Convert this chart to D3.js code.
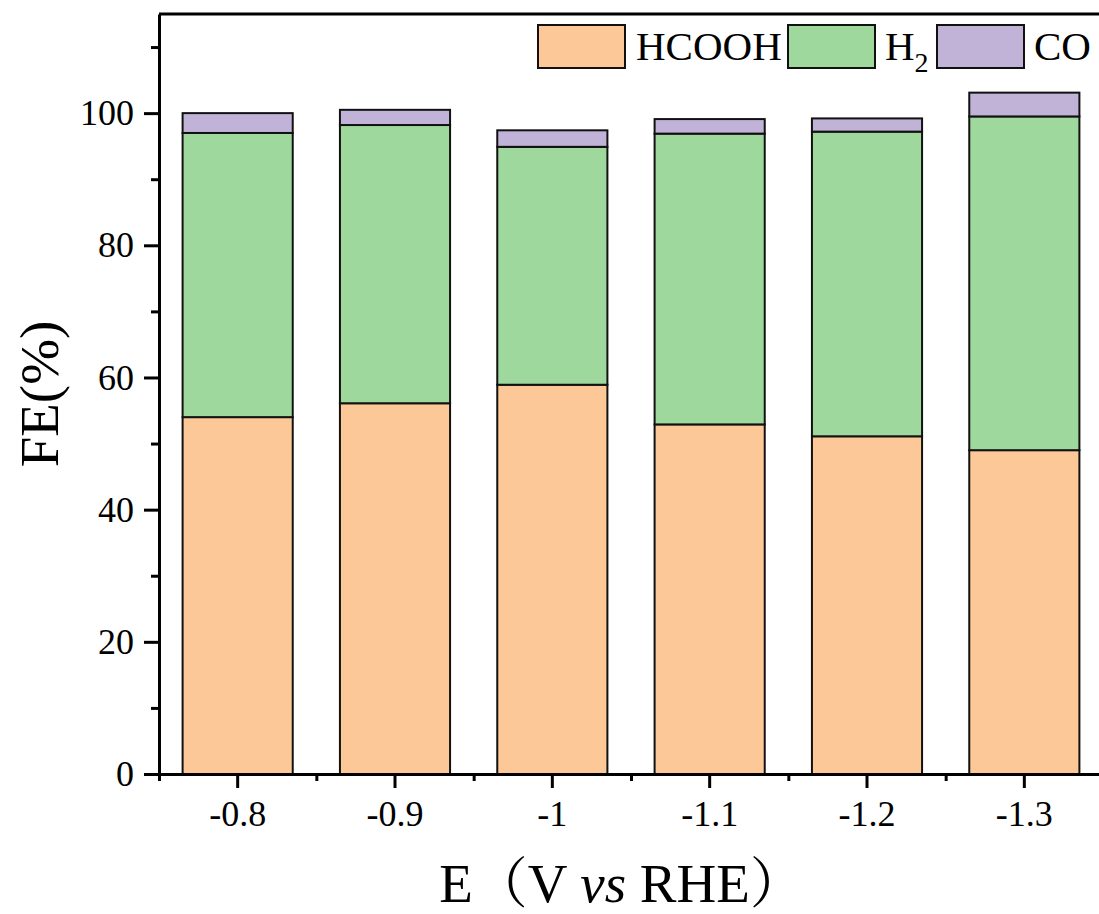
<!DOCTYPE html>
<html>
<head>
<meta charset="utf-8">
<script src="https://cdn.jsdelivr.net/npm/d3@7"></script>
<style>
    body { margin: 0; background: #fff; }
    text { font-family: "Liberation Serif", "Times New Roman", "Noto Serif CJK SC", "Noto Sans CJK SC", serif; fill: #000; }
</style>
</head>
<body>
<div id="chart"></div>
<script>
// data
const potentials = ["-0.8", "-0.9", "-1", "-1.1", "-1.2", "-1.3"]
const feHCOOH = [54.0, 56.1, 58.9, 52.9, 51.1, 49.0]
const feH2 = [43.0, 42.1, 36.0, 44.0, 46.1, 50.5]
const feCO = [3.0, 2.3, 2.5, 2.2, 2.0, 3.6]

const products = ["HCOOH", "H2", "CO"]
const colors = ["#fdc897", "#9ed89d", "#c1b2d8"]
const yTicks = [0, 20, 40, 60, 80, 100]
const yMinorTicks = [10, 30, 50, 70, 90, 110]

// Set dimensions
const dims = {
    width: 1099,
    height: 914,
    margin: { top: 14, right: -4, bottom: 140, left: 159 },
}
dims.boundedWidth = dims.width - dims.margin.left - dims.margin.right
dims.boundedHeight = dims.height - dims.margin.top - dims.margin.bottom

const rows = potentials.map((p, i) => ({
    E: p, HCOOH: feHCOOH[i], H2: feH2[i], CO: feCO[i]
}))
const series = d3.stack().keys(products)(rows)

// scales
const xScale = d3.scaleBand()
    .domain(potentials)
    .range([0, dims.boundedWidth])
    .paddingInner(0.3)
    .paddingOuter(0.15)

const xMinor = d3.scaleLinear()
    .domain([-0.5, potentials.length - 0.5])
    .range([0, dims.boundedWidth])

const yScale = d3.scaleLinear()
    .domain([0, 115])
    .range([dims.boundedHeight, 0])

const colorScale = d3.scaleOrdinal().domain(products).range(colors)

const svg = d3.select("#chart").append("svg")
    .attr("width", dims.width)
    .attr("height", dims.height)

const bounds = svg.append("g")
    .attr("transform", `translate(${dims.margin.left},${dims.margin.top})`)

// bars
bounds.selectAll("g.layer").data(series)
    .join("g")
    .attr("class", "layer")
    .attr("fill", d => colorScale(d.key))
    .selectAll("rect").data(d => d)
    .join("rect")
    .attr("x", d => xScale(d.data.E))
    .attr("y", d => yScale(d[1]))
    .attr("width", xScale.bandwidth())
    .attr("height", d => yScale(d[0]) - yScale(d[1]))
    .attr("stroke", "#111")
    .attr("stroke-width", 2)

// top frame line
bounds.append("line")
    .attr("x1", 0).attr("x2", dims.boundedWidth)
    .attr("y1", 0).attr("y2", 0)
    .attr("stroke", "#000").attr("stroke-width", 3)

// y axis
const yAxis = bounds.append("g")
    .call(d3.axisLeft(yScale).tickValues(yTicks).tickSize(15).tickPadding(10).tickSizeOuter(0))
yAxis.selectAll("text").style("font-size", "36px")
bounds.append("g")
    .call(d3.axisLeft(yScale).tickValues(yMinorTicks).tickSize(8).tickFormat("").tickSizeOuter(0))
    .select(".domain").remove()

// x axis
const xAxis = bounds.append("g")
    .attr("transform", `translate(0,${dims.boundedHeight})`)
    .call(d3.axisBottom(xScale).tickSize(14).tickPadding(12).tickSizeOuter(0))
xAxis.selectAll("text").style("font-size", "36px")
bounds.append("g")
    .attr("transform", `translate(0,${dims.boundedHeight})`)
    .call(d3.axisBottom(xMinor).tickValues(d3.range(-0.5, potentials.length, 1)).tickSize(7).tickFormat("").tickSizeOuter(0))
    .select(".domain").remove()

bounds.selectAll(".domain, .tick line")
    .attr("stroke", "#000")
    .attr("stroke-width", 3)

// axis titles
svg.append("text")
    .attr("transform", "translate(58, 394) rotate(-90)")
    .attr("text-anchor", "middle")
    .style("font-size", "55px")
    .text("FE(%)")

const xTitle = svg.append("text")
    .attr("x", 622)
    .attr("y", 902)
    .attr("text-anchor", "middle")
    .style("font-size", "55px")
xTitle.append("tspan").text("E（V ")
xTitle.append("tspan").style("font-style", "italic").text("vs")
xTitle.append("tspan").text(" RHE）")

// legend
const legendItems = [
    { key: "HCOOH", x: 538, textX: 636 },
    { key: "H2", x: 788, textX: 885 },
    { key: "CO", x: 937, textX: 1034 },
]
const legend = svg.append("g")
legend.selectAll("rect").data(legendItems)
    .join("rect")
    .attr("x", d => d.x)
    .attr("y", 25)
    .attr("width", 87)
    .attr("height", 43)
    .attr("fill", d => colorScale(d.key))
    .attr("stroke", "#111")
    .attr("stroke-width", 2)

const labels = legend.selectAll("text").data(legendItems)
    .join("text")
    .attr("x", d => d.textX)
    .attr("y", 60)
    .style("font-size", "41px")
labels.each(function(d) {
    const t = d3.select(this)
    if (d.key === "H2") {
        t.append("tspan").text("H")
        t.append("tspan").attr("dy", 12).style("font-size", "28px").text("2")
    } else {
        t.text(d.key)
    }
})
</script>
</body>
</html>
